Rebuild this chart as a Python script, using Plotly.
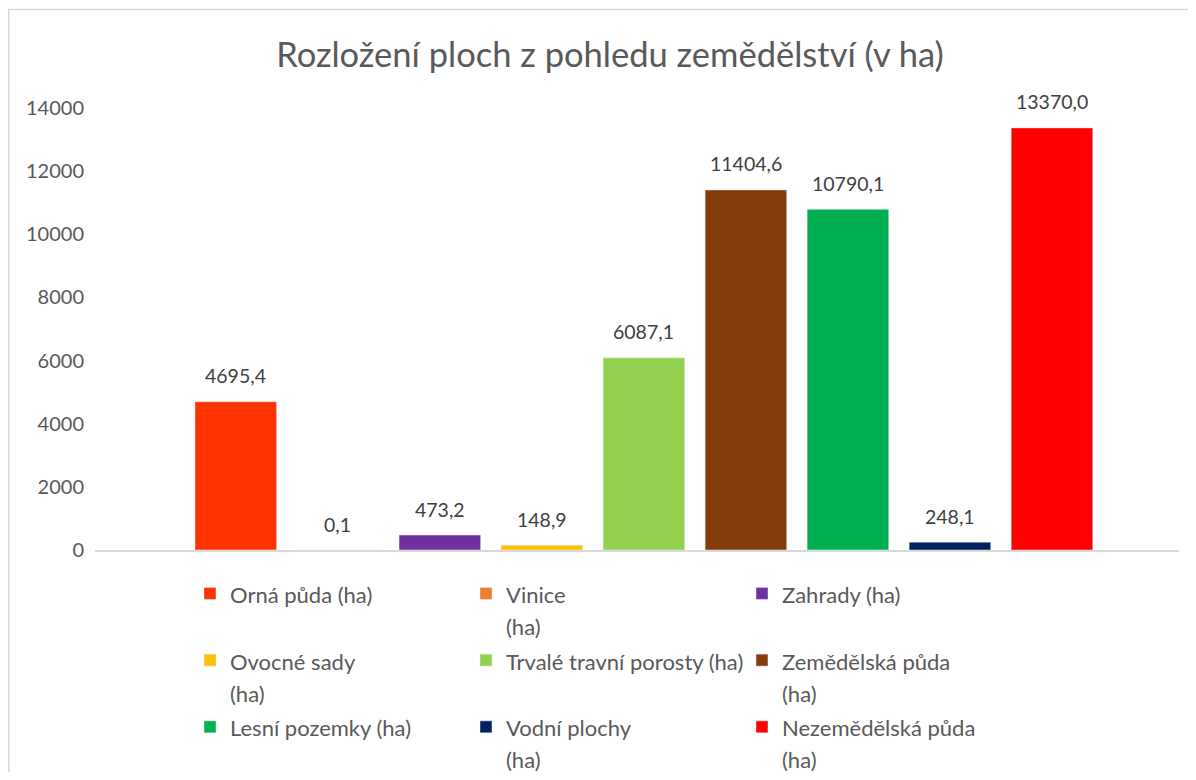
import plotly.graph_objects as go

categories = ["Orná půda (ha)", "Vinice<br>(ha)", "Zahrady (ha)", "Ovocné sady<br>(ha)",
              "Trvalé travní porosty (ha)", "Zemědělská půda<br>(ha)", "Lesní pozemky (ha)",
              "Vodní plochy<br>(ha)", "Nezemědělská půda<br>(ha)"]
values = [4695.4, 0.1, 473.2, 148.9, 6087.1, 11404.6, 10790.1, 248.1, 13370.0]
colors = ["#FF3300", "#ED7D31", "#7030A0", "#FFC000", "#92D050", "#843C0C", "#00B050", "#002060", "#FF0000"]
y_ticks = [0, 2000, 4000, 6000, 8000, 10000, 12000, 14000]

FONT = "Lato, 'Open Sans', sans-serif"
fig = go.Figure()
for i, (c, v, col) in enumerate(zip(categories, values, colors)):
    label = "<br>".join(f'<span style="font-size:22px">{part}</span>' for part in c.split("<br>"))
    fig.add_trace(go.Bar(x=[i], y=[v], name=label, marker_color=col, width=0.8,
                         hovertext=c.replace("<br>", " "), hoverinfo="text+y"))

for i, v in enumerate(values):
    fig.add_annotation(x=i, y=v, text=f"{v:.1f}".replace(".", ","), showarrow=False,
                       yshift=26, yanchor="middle", xanchor="center",
                       font=dict(family=FONT, size=19.5, color="#404040"))

# page has an 8px body margin: figure coordinates = screen coordinates - 8
W, H = 1180, 764
L, R, T, B = 87, 9, 100, 222
pw, ph = W - L - R, H - T - B
def px(x): return (x - L) / pw
def py(y): return (H - B - y) / ph

fig.add_shape(type="rect", xref="paper", yref="paper",
              x0=px(0.75), x1=px(1200), y0=py(1.5), y1=py(800),
              line=dict(color="#D9D9D9", width=1.5), fillcolor="rgba(0,0,0,0)", layer="below")

fig.update_layout(
    width=W, height=H,
    margin=dict(l=L, r=R, t=T, b=B, autoexpand=False),
    paper_bgcolor="white", plot_bgcolor="white",
    barmode="overlay",
    title=dict(text="Rozložení ploch z pohledu zemědělství (v ha)", x=(610 - 8) / W, xref="container",
               y=1 - 47 / H, yref="container", xanchor="center", yanchor="middle",
               font=dict(family=FONT, size=34.5, color="#595959")),
    xaxis=dict(range=[-1.38, 9.245], showticklabels=False, showgrid=False, zeroline=False,
               showline=True, linecolor="#D9D9D9", linewidth=2, ticks=""),
    yaxis=dict(range=[0, 14000], tickvals=y_ticks, ticktext=[str(t) for t in y_ticks],
               showgrid=False, zeroline=False, showline=False,
               tickfont=dict(family=FONT, size=20, color="#595959"), ticklabelstandoff=10),
    legend=dict(orientation="h", x=px(182), y=py(563), xanchor="left", yanchor="top",
                entrywidth=231, entrywidthmode="pixels", valign="top",
                font=dict(family=FONT, size=24.5, color="#595959"), traceorder="normal",
                tracegroupgap=0),
    font=dict(family=FONT),
)
fig.write_html("out.html")
